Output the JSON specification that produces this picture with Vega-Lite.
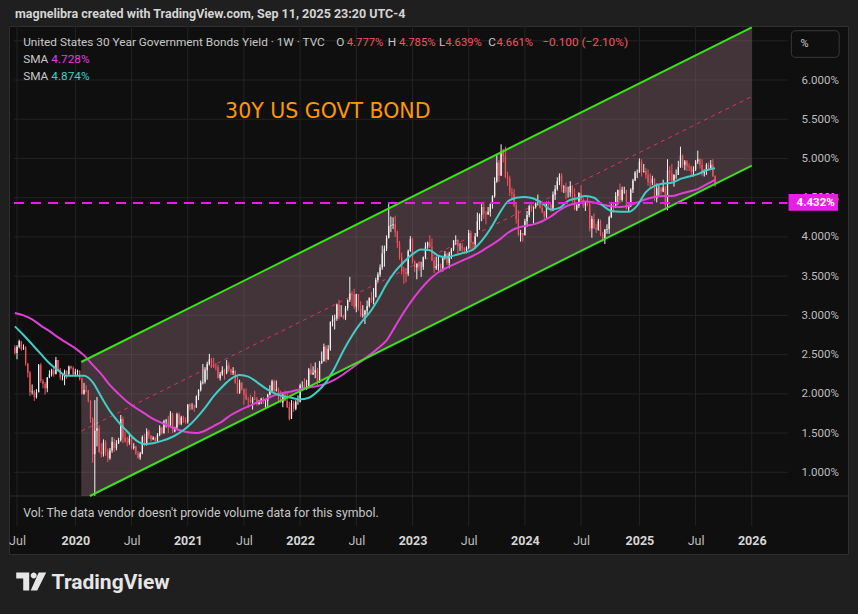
{
  "$schema": "https://vega.github.io/schema/vega-lite/v6.json",
  "width": 839,
  "height": 528,
  "autosize": {"type": "none"},
  "padding": {"left": 9, "top": 26, "right": 10, "bottom": 60},
  "background": "#1f1f1f",
  "config": {"view": {"fill": "#0f0f0f", "stroke": "#2f2f2f", "strokeWidth": 1}, "font": "Roboto"},
  "data": {"values": [{}]},
  "datasets": {
    "hgrid": [{"v":1},{"v":1.5},{"v":2},{"v":2.5},{"v":3},{"v":3.5},{"v":4},{"v":4.5},{"v":5},{"v":5.5},{"v":6},{"v":6.5}],
    "vgrid": [{"d":"2019-07-01"},{"d":"2020-01-06"},{"d":"2020-07-06"},{"d":"2021-01-04"},{"d":"2021-07-05"},{"d":"2022-01-03"},{"d":"2022-07-04"},{"d":"2023-01-02"},{"d":"2023-07-03"},{"d":"2024-01-01"},{"d":"2024-07-01"},{"d":"2025-01-06"},{"d":"2025-07-07"},{"d":"2026-01-05"}],
    "chan": [{"d":"2020-01-25","up":2.406,"lo":0.698},{"d":"2020-02-22","up":2.463,"lo":0.698},{"d":"2026-01-05","up":6.672,"lo":4.908}],
    "edges": [{"d":"2020-01-25","v":2.406,"e":"upper"},{"d":"2026-01-05","v":6.672,"e":"upper"},{"d":"2020-02-22","v":0.698,"e":"lower"},{"d":"2026-01-05","v":4.908,"e":"lower"}],
    "mid": [{"d":"2020-01-25","v":1.524},{"d":"2026-01-05","v":5.79}],
    "sma": [
      {"d":"2019-06-24","f":2.86,"s":3.03},{"d":"2019-07-22","f":2.75,"s":3.00},{"d":"2019-08-19","f":2.63,"s":2.95},{"d":"2019-09-16","f":2.51,"s":2.87},
      {"d":"2019-10-14","f":2.39,"s":2.80},{"d":"2019-11-11","f":2.30,"s":2.72},{"d":"2019-12-09","f":2.23,"s":2.65},{"d":"2020-01-06","f":2.23,"s":2.58},
      {"d":"2020-02-03","f":2.23,"s":2.49},{"d":"2020-03-02","f":2.15,"s":2.37},{"d":"2020-03-30","f":1.96,"s":2.25},{"d":"2020-04-27","f":1.78,"s":2.11},
      {"d":"2020-05-25","f":1.64,"s":2.00},{"d":"2020-06-22","f":1.52,"s":1.90},{"d":"2020-07-20","f":1.41,"s":1.82},{"d":"2020-08-17","f":1.36,"s":1.75},
      {"d":"2020-09-14","f":1.37,"s":1.68},{"d":"2020-10-12","f":1.40,"s":1.63},{"d":"2020-11-09","f":1.44,"s":1.58},{"d":"2020-12-07","f":1.50,"s":1.54},
      {"d":"2021-01-04","f":1.58,"s":1.51},{"d":"2021-02-01","f":1.69,"s":1.50},{"d":"2021-03-01","f":1.82,"s":1.53},{"d":"2021-03-29","f":1.97,"s":1.59},
      {"d":"2021-04-26","f":2.09,"s":1.65},{"d":"2021-05-24","f":2.19,"s":1.73},{"d":"2021-06-21","f":2.24,"s":1.79},{"d":"2021-07-19","f":2.22,"s":1.84},
      {"d":"2021-08-16","f":2.15,"s":1.89},{"d":"2021-09-13","f":2.07,"s":1.93},{"d":"2021-10-11","f":2.01,"s":1.98},{"d":"2021-11-08","f":1.97,"s":2.01},
      {"d":"2021-12-06","f":1.95,"s":2.03},{"d":"2022-01-03","f":1.93,"s":2.06},{"d":"2022-01-31","f":1.95,"s":2.08},{"d":"2022-02-28","f":2.03,"s":2.10},
      {"d":"2022-03-28","f":2.15,"s":2.13},{"d":"2022-04-25","f":2.33,"s":2.18},{"d":"2022-05-23","f":2.55,"s":2.25},{"d":"2022-06-20","f":2.74,"s":2.33},
      {"d":"2022-07-18","f":2.90,"s":2.41},{"d":"2022-08-15","f":3.03,"s":2.49},{"d":"2022-09-12","f":3.20,"s":2.58},{"d":"2022-10-10","f":3.40,"s":2.68},
      {"d":"2022-11-07","f":3.56,"s":2.86},{"d":"2022-12-05","f":3.68,"s":3.04},{"d":"2023-01-02","f":3.78,"s":3.20},{"d":"2023-01-30","f":3.84,"s":3.34},
      {"d":"2023-02-27","f":3.83,"s":3.46},{"d":"2023-03-27","f":3.76,"s":3.55},{"d":"2023-04-24","f":3.74,"s":3.61},{"d":"2023-05-22","f":3.77,"s":3.66},
      {"d":"2023-06-19","f":3.80,"s":3.71},{"d":"2023-07-17","f":3.84,"s":3.76},{"d":"2023-08-14","f":3.95,"s":3.82},{"d":"2023-09-11","f":4.10,"s":3.89},
      {"d":"2023-10-09","f":4.29,"s":3.96},{"d":"2023-11-06","f":4.45,"s":4.05},{"d":"2023-12-04","f":4.50,"s":4.11},{"d":"2024-01-01","f":4.51,"s":4.14},
      {"d":"2024-01-29","f":4.49,"s":4.16},{"d":"2024-02-26","f":4.43,"s":4.20},{"d":"2024-03-25","f":4.35,"s":4.26},{"d":"2024-04-22","f":4.37,"s":4.34},
      {"d":"2024-05-20","f":4.46,"s":4.40},{"d":"2024-06-17","f":4.49,"s":4.43},{"d":"2024-07-15","f":4.52,"s":4.45},{"d":"2024-08-12","f":4.50,"s":4.44},
      {"d":"2024-09-09","f":4.40,"s":4.41},{"d":"2024-10-07","f":4.33,"s":4.39},{"d":"2024-11-04","f":4.32,"s":4.38},{"d":"2024-12-02","f":4.32,"s":4.40},
      {"d":"2024-12-30","f":4.40,"s":4.44},{"d":"2025-01-27","f":4.57,"s":4.48},{"d":"2025-02-24","f":4.65,"s":4.51},{"d":"2025-03-24","f":4.68,"s":4.52},
      {"d":"2025-04-21","f":4.69,"s":4.52},{"d":"2025-05-19","f":4.74,"s":4.55},{"d":"2025-06-16","f":4.77,"s":4.58},{"d":"2025-07-14","f":4.80,"s":4.61},
      {"d":"2025-08-11","f":4.85,"s":4.67},{"d":"2025-09-08","f":4.874,"s":4.728}
    ],
    "candles": [
      {"d":"2019-06-24","o":2.59,"h":2.62,"l":2.50,"c":2.52},{"d":"2019-07-01","o":2.52,"h":2.62,"l":2.44,"c":2.60},{"d":"2019-07-08","o":2.60,"h":2.69,"l":2.58,"c":2.67},
      {"d":"2019-07-15","o":2.67,"h":2.67,"l":2.55,"c":2.57},{"d":"2019-07-22","o":2.57,"h":2.63,"l":2.56,"c":2.59},{"d":"2019-07-29","o":2.59,"h":2.61,"l":2.36,"c":2.39},
      {"d":"2019-08-05","o":2.39,"h":2.39,"l":2.21,"c":2.27},{"d":"2019-08-12","o":2.27,"h":2.29,"l":1.97,"c":2.02},{"d":"2019-08-19","o":2.02,"h":2.12,"l":1.99,"c":2.03},
      {"d":"2019-08-26","o":2.03,"h":2.05,"l":1.91,"c":1.96},{"d":"2019-09-02","o":1.96,"h":2.06,"l":1.94,"c":2.02},{"d":"2019-09-09","o":2.02,"h":2.38,"l":2.02,"c":2.37},
      {"d":"2019-09-16","o":2.37,"h":2.39,"l":2.14,"c":2.16},{"d":"2019-09-23","o":2.16,"h":2.19,"l":2.07,"c":2.13},{"d":"2019-09-30","o":2.13,"h":2.15,"l":1.99,"c":2.07},
      {"d":"2019-10-07","o":2.07,"h":2.21,"l":2.02,"c":2.21},{"d":"2019-10-14","o":2.21,"h":2.30,"l":2.20,"c":2.25},{"d":"2019-10-21","o":2.25,"h":2.32,"l":2.22,"c":2.30},
      {"d":"2019-10-28","o":2.30,"h":2.35,"l":2.22,"c":2.25},{"d":"2019-11-04","o":2.25,"h":2.47,"l":2.25,"c":2.43},{"d":"2019-11-11","o":2.43,"h":2.43,"l":2.28,"c":2.31},
      {"d":"2019-11-18","o":2.31,"h":2.33,"l":2.18,"c":2.21},{"d":"2019-11-25","o":2.21,"h":2.24,"l":2.17,"c":2.21},{"d":"2019-12-02","o":2.21,"h":2.31,"l":2.11,"c":2.29},
      {"d":"2019-12-09","o":2.29,"h":2.30,"l":2.19,"c":2.25},{"d":"2019-12-16","o":2.25,"h":2.36,"l":2.23,"c":2.35},{"d":"2019-12-23","o":2.35,"h":2.36,"l":2.31,"c":2.33},
      {"d":"2019-12-30","o":2.33,"h":2.35,"l":2.24,"c":2.25},
      {"d":"2020-01-06","o":2.25,"h":2.32,"l":2.23,"c":2.28},{"d":"2020-01-13","o":2.28,"h":2.31,"l":2.24,"c":2.29},{"d":"2020-01-20","o":2.29,"h":2.30,"l":2.17,"c":2.19},
      {"d":"2020-01-27","o":2.19,"h":2.21,"l":1.99,"c":2.00},{"d":"2020-02-03","o":2.00,"h":2.14,"l":1.99,"c":2.05},{"d":"2020-02-10","o":2.05,"h":2.11,"l":2.02,"c":2.04},
      {"d":"2020-02-17","o":2.04,"h":2.05,"l":1.89,"c":1.91},{"d":"2020-02-24","o":1.91,"h":1.92,"l":1.63,"c":1.68},{"d":"2020-03-02","o":1.68,"h":1.70,"l":1.12,"c":1.23},
      {"d":"2020-03-09","o":1.23,"h":1.92,"l":0.70,"c":1.53},{"d":"2020-03-16","o":1.53,"h":1.96,"l":1.33,"c":1.56},{"d":"2020-03-23","o":1.56,"h":1.60,"l":1.25,"c":1.26},
      {"d":"2020-03-30","o":1.26,"h":1.37,"l":1.19,"c":1.23},{"d":"2020-04-06","o":1.23,"h":1.42,"l":1.20,"c":1.38},{"d":"2020-04-13","o":1.38,"h":1.41,"l":1.21,"c":1.26},
      {"d":"2020-04-20","o":1.26,"h":1.30,"l":1.13,"c":1.18},{"d":"2020-04-27","o":1.18,"h":1.31,"l":1.16,"c":1.28},{"d":"2020-05-04","o":1.28,"h":1.45,"l":1.25,"c":1.39},
      {"d":"2020-05-11","o":1.39,"h":1.43,"l":1.26,"c":1.31},{"d":"2020-05-18","o":1.31,"h":1.41,"l":1.28,"c":1.37},{"d":"2020-05-25","o":1.37,"h":1.44,"l":1.36,"c":1.41},
      {"d":"2020-06-01","o":1.41,"h":1.73,"l":1.39,"c":1.68},{"d":"2020-06-08","o":1.68,"h":1.71,"l":1.37,"c":1.44},{"d":"2020-06-15","o":1.44,"h":1.52,"l":1.38,"c":1.39},
      {"d":"2020-06-22","o":1.39,"h":1.45,"l":1.33,"c":1.38},{"d":"2020-06-29","o":1.38,"h":1.48,"l":1.35,"c":1.43},{"d":"2020-07-06","o":1.43,"h":1.46,"l":1.29,"c":1.31},
      {"d":"2020-07-13","o":1.31,"h":1.37,"l":1.29,"c":1.33},{"d":"2020-07-20","o":1.33,"h":1.34,"l":1.22,"c":1.24},{"d":"2020-07-27","o":1.24,"h":1.27,"l":1.17,"c":1.19},
      {"d":"2020-08-03","o":1.19,"h":1.26,"l":1.16,"c":1.24},{"d":"2020-08-10","o":1.24,"h":1.47,"l":1.23,"c":1.45},{"d":"2020-08-17","o":1.45,"h":1.49,"l":1.33,"c":1.35},
      {"d":"2020-08-24","o":1.35,"h":1.56,"l":1.34,"c":1.52},{"d":"2020-08-31","o":1.52,"h":1.54,"l":1.43,"c":1.47},{"d":"2020-09-07","o":1.47,"h":1.47,"l":1.39,"c":1.42},
      {"d":"2020-09-14","o":1.42,"h":1.46,"l":1.41,"c":1.44},{"d":"2020-09-21","o":1.44,"h":1.45,"l":1.37,"c":1.40},{"d":"2020-09-28","o":1.40,"h":1.50,"l":1.39,"c":1.48},
      {"d":"2020-10-05","o":1.48,"h":1.60,"l":1.46,"c":1.57},{"d":"2020-10-12","o":1.57,"h":1.58,"l":1.48,"c":1.50},{"d":"2020-10-19","o":1.50,"h":1.67,"l":1.49,"c":1.65},
      {"d":"2020-10-26","o":1.65,"h":1.68,"l":1.57,"c":1.66},{"d":"2020-11-02","o":1.66,"h":1.72,"l":1.50,"c":1.60},{"d":"2020-11-09","o":1.60,"h":1.78,"l":1.58,"c":1.75},
      {"d":"2020-11-16","o":1.75,"h":1.76,"l":1.50,"c":1.52},{"d":"2020-11-23","o":1.52,"h":1.58,"l":1.51,"c":1.57},{"d":"2020-11-30","o":1.57,"h":1.76,"l":1.55,"c":1.74},
      {"d":"2020-12-07","o":1.74,"h":1.76,"l":1.60,"c":1.62},{"d":"2020-12-14","o":1.62,"h":1.72,"l":1.60,"c":1.70},{"d":"2020-12-21","o":1.70,"h":1.72,"l":1.63,"c":1.66},
      {"d":"2020-12-28","o":1.66,"h":1.70,"l":1.62,"c":1.64},
      {"d":"2021-01-04","o":1.64,"h":1.87,"l":1.62,"c":1.86},{"d":"2021-01-11","o":1.86,"h":1.88,"l":1.79,"c":1.84},{"d":"2021-01-18","o":1.84,"h":1.88,"l":1.80,"c":1.84},
      {"d":"2021-01-25","o":1.84,"h":1.86,"l":1.77,"c":1.83},{"d":"2021-02-01","o":1.83,"h":1.98,"l":1.82,"c":1.97},{"d":"2021-02-08","o":1.97,"h":2.06,"l":1.92,"c":2.05},
      {"d":"2021-02-15","o":2.05,"h":2.17,"l":2.03,"c":2.14},{"d":"2021-02-22","o":2.14,"h":2.38,"l":2.12,"c":2.15},{"d":"2021-03-01","o":2.15,"h":2.34,"l":2.13,"c":2.30},
      {"d":"2021-03-08","o":2.30,"h":2.41,"l":2.18,"c":2.38},{"d":"2021-03-15","o":2.38,"h":2.51,"l":2.36,"c":2.44},{"d":"2021-03-22","o":2.44,"h":2.46,"l":2.33,"c":2.38},
      {"d":"2021-03-29","o":2.38,"h":2.46,"l":2.33,"c":2.35},{"d":"2021-04-05","o":2.35,"h":2.39,"l":2.30,"c":2.34},{"d":"2021-04-12","o":2.34,"h":2.37,"l":2.20,"c":2.20},
      {"d":"2021-04-19","o":2.20,"h":2.28,"l":2.17,"c":2.25},{"d":"2021-04-26","o":2.25,"h":2.35,"l":2.23,"c":2.30},{"d":"2021-05-03","o":2.30,"h":2.32,"l":2.18,"c":2.27},
      {"d":"2021-05-10","o":2.27,"h":2.43,"l":2.25,"c":2.36},{"d":"2021-05-17","o":2.36,"h":2.40,"l":2.28,"c":2.31},{"d":"2021-05-24","o":2.31,"h":2.32,"l":2.24,"c":2.27},
      {"d":"2021-05-31","o":2.27,"h":2.34,"l":2.24,"c":2.29},{"d":"2021-06-07","o":2.29,"h":2.30,"l":2.13,"c":2.14},{"d":"2021-06-14","o":2.14,"h":2.23,"l":2.00,"c":2.01},
      {"d":"2021-06-21","o":2.01,"h":2.18,"l":2.00,"c":2.14},{"d":"2021-06-28","o":2.14,"h":2.15,"l":2.04,"c":2.06},{"d":"2021-07-05","o":2.06,"h":2.07,"l":1.86,"c":1.99},
      {"d":"2021-07-12","o":1.99,"h":2.07,"l":1.92,"c":1.93},{"d":"2021-07-19","o":1.93,"h":1.96,"l":1.82,"c":1.92},{"d":"2021-07-26","o":1.92,"h":1.99,"l":1.88,"c":1.89},
      {"d":"2021-08-02","o":1.89,"h":1.96,"l":1.80,"c":1.94},{"d":"2021-08-09","o":1.94,"h":2.04,"l":1.92,"c":1.93},{"d":"2021-08-16","o":1.93,"h":1.96,"l":1.85,"c":1.87},
      {"d":"2021-08-23","o":1.87,"h":1.92,"l":1.86,"c":1.91},{"d":"2021-08-30","o":1.91,"h":1.95,"l":1.87,"c":1.94},{"d":"2021-09-06","o":1.94,"h":1.96,"l":1.87,"c":1.91},
      {"d":"2021-09-13","o":1.91,"h":1.93,"l":1.82,"c":1.91},{"d":"2021-09-20","o":1.91,"h":2.00,"l":1.82,"c":1.99},{"d":"2021-09-27","o":1.99,"h":2.11,"l":1.98,"c":2.04},
      {"d":"2021-10-04","o":2.04,"h":2.18,"l":2.03,"c":2.16},{"d":"2021-10-11","o":2.16,"h":2.18,"l":2.02,"c":2.04},{"d":"2021-10-18","o":2.04,"h":2.17,"l":2.03,"c":2.06},
      {"d":"2021-10-25","o":2.06,"h":2.08,"l":1.90,"c":1.93},{"d":"2021-11-01","o":1.93,"h":2.04,"l":1.89,"c":1.89},{"d":"2021-11-08","o":1.89,"h":2.00,"l":1.83,"c":1.99},
      {"d":"2021-11-15","o":1.99,"h":2.04,"l":1.91,"c":1.91},{"d":"2021-11-22","o":1.91,"h":2.03,"l":1.82,"c":1.83},{"d":"2021-11-29","o":1.83,"h":1.90,"l":1.66,"c":1.68},
      {"d":"2021-12-06","o":1.68,"h":1.92,"l":1.68,"c":1.88},{"d":"2021-12-13","o":1.88,"h":1.91,"l":1.77,"c":1.81},{"d":"2021-12-20","o":1.81,"h":1.92,"l":1.79,"c":1.90},
      {"d":"2021-12-27","o":1.90,"h":1.98,"l":1.86,"c":1.90},
      {"d":"2022-01-03","o":1.90,"h":2.13,"l":1.89,"c":2.11},{"d":"2022-01-10","o":2.11,"h":2.16,"l":2.04,"c":2.11},{"d":"2022-01-17","o":2.11,"h":2.20,"l":2.06,"c":2.07},
      {"d":"2022-01-24","o":2.07,"h":2.18,"l":2.05,"c":2.08},{"d":"2022-01-31","o":2.08,"h":2.33,"l":2.07,"c":2.31},{"d":"2022-02-07","o":2.31,"h":2.39,"l":2.24,"c":2.25},
      {"d":"2022-02-14","o":2.25,"h":2.35,"l":2.24,"c":2.27},{"d":"2022-02-21","o":2.27,"h":2.40,"l":2.20,"c":2.30},{"d":"2022-02-28","o":2.30,"h":2.33,"l":2.11,"c":2.15},
      {"d":"2022-03-07","o":2.15,"h":2.42,"l":2.14,"c":2.40},{"d":"2022-03-14","o":2.40,"h":2.54,"l":2.38,"c":2.42},{"d":"2022-03-21","o":2.42,"h":2.64,"l":2.41,"c":2.60},
      {"d":"2022-03-28","o":2.60,"h":2.62,"l":2.40,"c":2.44},{"d":"2022-04-04","o":2.44,"h":2.62,"l":2.43,"c":2.57},{"d":"2022-04-11","o":2.57,"h":2.92,"l":2.55,"c":2.92},
      {"d":"2022-04-18","o":2.92,"h":3.00,"l":2.86,"c":2.95},{"d":"2022-04-25","o":2.95,"h":3.01,"l":2.82,"c":2.96},{"d":"2022-05-02","o":2.96,"h":3.15,"l":2.93,"c":3.14},
      {"d":"2022-05-09","o":3.14,"h":3.20,"l":2.95,"c":2.99},{"d":"2022-05-16","o":2.99,"h":3.13,"l":2.98,"c":2.99},{"d":"2022-05-23","o":2.99,"h":3.01,"l":2.95,"c":2.97},
      {"d":"2022-05-30","o":2.97,"h":3.12,"l":2.94,"c":3.09},{"d":"2022-06-06","o":3.09,"h":3.20,"l":3.06,"c":3.20},{"d":"2022-06-13","o":3.20,"h":3.49,"l":3.17,"c":3.28},
      {"d":"2022-06-20","o":3.28,"h":3.31,"l":3.12,"c":3.26},{"d":"2022-06-27","o":3.26,"h":3.34,"l":3.08,"c":3.11},{"d":"2022-07-04","o":3.11,"h":3.27,"l":3.04,"c":3.27},
      {"d":"2022-07-11","o":3.27,"h":3.27,"l":3.06,"c":3.09},{"d":"2022-07-18","o":3.09,"h":3.18,"l":2.98,"c":3.00},{"d":"2022-07-25","o":3.00,"h":3.13,"l":2.97,"c":3.01},
      {"d":"2022-08-01","o":3.01,"h":3.07,"l":2.89,"c":3.06},{"d":"2022-08-08","o":3.06,"h":3.19,"l":3.00,"c":3.12},{"d":"2022-08-15","o":3.12,"h":3.23,"l":3.10,"c":3.22},
      {"d":"2022-08-22","o":3.22,"h":3.30,"l":3.16,"c":3.19},{"d":"2022-08-29","o":3.19,"h":3.35,"l":3.14,"c":3.23},{"d":"2022-09-05","o":3.23,"h":3.48,"l":3.23,"c":3.45},
      {"d":"2022-09-12","o":3.45,"h":3.55,"l":3.42,"c":3.52},{"d":"2022-09-19","o":3.52,"h":3.65,"l":3.49,"c":3.61},{"d":"2022-09-26","o":3.61,"h":3.89,"l":3.58,"c":3.79},
      {"d":"2022-10-03","o":3.79,"h":3.89,"l":3.62,"c":3.85},{"d":"2022-10-10","o":3.85,"h":4.02,"l":3.82,"c":3.99},{"d":"2022-10-17","o":3.99,"h":4.42,"l":3.98,"c":4.14},
      {"d":"2022-10-24","o":4.14,"h":4.26,"l":4.06,"c":4.15},{"d":"2022-10-31","o":4.15,"h":4.25,"l":4.10,"c":4.16},{"d":"2022-11-07","o":4.16,"h":4.27,"l":4.00,"c":4.06},
      {"d":"2022-11-14","o":4.06,"h":4.08,"l":3.86,"c":3.92},{"d":"2022-11-21","o":3.92,"h":3.95,"l":3.71,"c":3.74},{"d":"2022-11-28","o":3.74,"h":3.80,"l":3.52,"c":3.56},
      {"d":"2022-12-05","o":3.56,"h":3.62,"l":3.40,"c":3.55},{"d":"2022-12-12","o":3.55,"h":3.60,"l":3.42,"c":3.53},{"d":"2022-12-19","o":3.53,"h":3.84,"l":3.50,"c":3.82},
      {"d":"2022-12-26","o":3.82,"h":4.01,"l":3.81,"c":3.97},
      {"d":"2023-01-02","o":3.97,"h":3.99,"l":3.66,"c":3.69},{"d":"2023-01-09","o":3.69,"h":3.70,"l":3.55,"c":3.61},{"d":"2023-01-16","o":3.61,"h":3.66,"l":3.46,"c":3.66},
      {"d":"2023-01-23","o":3.66,"h":3.69,"l":3.57,"c":3.62},{"d":"2023-01-30","o":3.62,"h":3.68,"l":3.49,"c":3.62},{"d":"2023-02-06","o":3.62,"h":3.75,"l":3.58,"c":3.74},
      {"d":"2023-02-13","o":3.74,"h":3.93,"l":3.72,"c":3.88},{"d":"2023-02-20","o":3.88,"h":3.94,"l":3.85,"c":3.93},{"d":"2023-02-27","o":3.93,"h":4.02,"l":3.86,"c":3.87},
      {"d":"2023-03-06","o":3.87,"h":3.98,"l":3.69,"c":3.70},{"d":"2023-03-13","o":3.70,"h":3.75,"l":3.54,"c":3.60},{"d":"2023-03-20","o":3.60,"h":3.75,"l":3.58,"c":3.63},
      {"d":"2023-03-27","o":3.63,"h":3.76,"l":3.57,"c":3.65},{"d":"2023-04-03","o":3.65,"h":3.66,"l":3.55,"c":3.60},{"d":"2023-04-10","o":3.60,"h":3.76,"l":3.56,"c":3.74},
      {"d":"2023-04-17","o":3.74,"h":3.82,"l":3.71,"c":3.78},{"d":"2023-04-24","o":3.78,"h":3.80,"l":3.64,"c":3.67},{"d":"2023-05-01","o":3.67,"h":3.81,"l":3.60,"c":3.79},
      {"d":"2023-05-08","o":3.79,"h":3.86,"l":3.72,"c":3.84},{"d":"2023-05-15","o":3.84,"h":3.96,"l":3.82,"c":3.95},{"d":"2023-05-22","o":3.95,"h":4.02,"l":3.90,"c":3.96},
      {"d":"2023-05-29","o":3.96,"h":3.97,"l":3.79,"c":3.88},{"d":"2023-06-05","o":3.88,"h":3.92,"l":3.82,"c":3.88},{"d":"2023-06-12","o":3.88,"h":3.92,"l":3.79,"c":3.85},
      {"d":"2023-06-19","o":3.85,"h":3.87,"l":3.78,"c":3.83},{"d":"2023-06-26","o":3.83,"h":3.88,"l":3.79,"c":3.86},{"d":"2023-07-03","o":3.86,"h":4.09,"l":3.84,"c":4.05},
      {"d":"2023-07-10","o":4.05,"h":4.08,"l":3.84,"c":3.93},{"d":"2023-07-17","o":3.93,"h":3.94,"l":3.82,"c":3.91},{"d":"2023-07-24","o":3.91,"h":4.05,"l":3.85,"c":4.01},
      {"d":"2023-07-31","o":4.01,"h":4.31,"l":4.00,"c":4.20},{"d":"2023-08-07","o":4.20,"h":4.30,"l":4.09,"c":4.28},{"d":"2023-08-14","o":4.28,"h":4.43,"l":4.20,"c":4.38},
      {"d":"2023-08-21","o":4.38,"h":4.45,"l":4.23,"c":4.30},{"d":"2023-08-28","o":4.30,"h":4.33,"l":4.16,"c":4.29},{"d":"2023-09-04","o":4.29,"h":4.38,"l":4.28,"c":4.32},
      {"d":"2023-09-11","o":4.32,"h":4.43,"l":4.26,"c":4.42},{"d":"2023-09-18","o":4.42,"h":4.53,"l":4.36,"c":4.52},{"d":"2023-09-25","o":4.52,"h":4.76,"l":4.50,"c":4.71},
      {"d":"2023-10-02","o":4.71,"h":5.05,"l":4.69,"c":4.95},{"d":"2023-10-09","o":4.95,"h":4.98,"l":4.70,"c":4.78},{"d":"2023-10-16","o":4.78,"h":5.18,"l":4.78,"c":5.09},
      {"d":"2023-10-23","o":5.09,"h":5.12,"l":4.95,"c":5.03},{"d":"2023-10-30","o":5.03,"h":5.15,"l":4.75,"c":4.76},{"d":"2023-11-06","o":4.76,"h":4.83,"l":4.65,"c":4.74},
      {"d":"2023-11-13","o":4.74,"h":4.78,"l":4.52,"c":4.57},{"d":"2023-11-20","o":4.57,"h":4.63,"l":4.48,"c":4.55},{"d":"2023-11-27","o":4.55,"h":4.61,"l":4.38,"c":4.40},
      {"d":"2023-12-04","o":4.40,"h":4.43,"l":4.17,"c":4.23},{"d":"2023-12-11","o":4.23,"h":4.34,"l":4.01,"c":4.03},{"d":"2023-12-18","o":4.03,"h":4.09,"l":3.94,"c":4.05},
      {"d":"2023-12-25","o":4.05,"h":4.05,"l":3.94,"c":4.02},
      {"d":"2024-01-01","o":4.02,"h":4.23,"l":4.02,"c":4.20},{"d":"2024-01-08","o":4.20,"h":4.33,"l":4.13,"c":4.28},{"d":"2024-01-15","o":4.28,"h":4.41,"l":4.25,"c":4.39},
      {"d":"2024-01-22","o":4.39,"h":4.44,"l":4.32,"c":4.36},{"d":"2024-01-29","o":4.36,"h":4.39,"l":4.17,"c":4.38},{"d":"2024-02-05","o":4.38,"h":4.44,"l":4.36,"c":4.43},
      {"d":"2024-02-12","o":4.43,"h":4.54,"l":4.40,"c":4.43},{"d":"2024-02-19","o":4.43,"h":4.47,"l":4.36,"c":4.37},{"d":"2024-02-26","o":4.37,"h":4.43,"l":4.30,"c":4.32},
      {"d":"2024-03-04","o":4.32,"h":4.33,"l":4.21,"c":4.26},{"d":"2024-03-11","o":4.26,"h":4.45,"l":4.24,"c":4.43},{"d":"2024-03-18","o":4.43,"h":4.46,"l":4.35,"c":4.41},
      {"d":"2024-03-25","o":4.41,"h":4.42,"l":4.32,"c":4.34},{"d":"2024-04-01","o":4.34,"h":4.58,"l":4.33,"c":4.54},{"d":"2024-04-08","o":4.54,"h":4.66,"l":4.47,"c":4.61},
      {"d":"2024-04-15","o":4.61,"h":4.76,"l":4.59,"c":4.71},{"d":"2024-04-22","o":4.71,"h":4.81,"l":4.66,"c":4.78},{"d":"2024-04-29","o":4.78,"h":4.81,"l":4.59,"c":4.63},
      {"d":"2024-05-06","o":4.63,"h":4.66,"l":4.56,"c":4.64},{"d":"2024-05-13","o":4.64,"h":4.69,"l":4.48,"c":4.57},{"d":"2024-05-20","o":4.57,"h":4.64,"l":4.50,"c":4.57},
      {"d":"2024-05-27","o":4.57,"h":4.71,"l":4.51,"c":4.65},{"d":"2024-06-03","o":4.65,"h":4.66,"l":4.44,"c":4.55},{"d":"2024-06-10","o":4.55,"h":4.62,"l":4.34,"c":4.35},
      {"d":"2024-06-17","o":4.35,"h":4.43,"l":4.33,"c":4.40},{"d":"2024-06-24","o":4.40,"h":4.57,"l":4.37,"c":4.56},{"d":"2024-07-01","o":4.56,"h":4.66,"l":4.46,"c":4.47},
      {"d":"2024-07-08","o":4.47,"h":4.50,"l":4.37,"c":4.40},{"d":"2024-07-15","o":4.40,"h":4.46,"l":4.33,"c":4.45},{"d":"2024-07-22","o":4.45,"h":4.51,"l":4.39,"c":4.42},
      {"d":"2024-07-29","o":4.42,"h":4.45,"l":4.07,"c":4.11},{"d":"2024-08-05","o":4.11,"h":4.27,"l":3.99,"c":4.23},{"d":"2024-08-12","o":4.23,"h":4.30,"l":4.10,"c":4.12},
      {"d":"2024-08-19","o":4.12,"h":4.17,"l":4.05,"c":4.09},{"d":"2024-08-26","o":4.09,"h":4.23,"l":4.08,"c":4.20},{"d":"2024-09-02","o":4.20,"h":4.22,"l":4.01,"c":4.03},
      {"d":"2024-09-09","o":4.03,"h":4.06,"l":3.94,"c":3.98},{"d":"2024-09-16","o":3.98,"h":4.10,"l":3.91,"c":4.09},{"d":"2024-09-23","o":4.09,"h":4.16,"l":4.04,"c":4.10},
      {"d":"2024-09-30","o":4.10,"h":4.27,"l":4.04,"c":4.25},{"d":"2024-10-07","o":4.25,"h":4.42,"l":4.24,"c":4.41},{"d":"2024-10-14","o":4.41,"h":4.43,"l":4.31,"c":4.39},
      {"d":"2024-10-21","o":4.39,"h":4.57,"l":4.37,"c":4.52},{"d":"2024-10-28","o":4.52,"h":4.60,"l":4.41,"c":4.60},{"d":"2024-11-04","o":4.60,"h":4.68,"l":4.43,"c":4.47},
      {"d":"2024-11-11","o":4.47,"h":4.64,"l":4.45,"c":4.60},{"d":"2024-11-18","o":4.60,"h":4.64,"l":4.55,"c":4.60},{"d":"2024-11-25","o":4.60,"h":4.60,"l":4.35,"c":4.36},
      {"d":"2024-12-02","o":4.36,"h":4.41,"l":4.32,"c":4.39},{"d":"2024-12-09","o":4.39,"h":4.62,"l":4.38,"c":4.60},{"d":"2024-12-16","o":4.60,"h":4.74,"l":4.56,"c":4.72},
      {"d":"2024-12-23","o":4.72,"h":4.84,"l":4.71,"c":4.82},{"d":"2024-12-30","o":4.82,"h":4.86,"l":4.75,"c":4.82},
      {"d":"2025-01-06","o":4.82,"h":5.00,"l":4.82,"c":4.96},{"d":"2025-01-13","o":4.96,"h":4.99,"l":4.77,"c":4.83},{"d":"2025-01-20","o":4.83,"h":4.93,"l":4.82,"c":4.84},
      {"d":"2025-01-27","o":4.84,"h":4.88,"l":4.74,"c":4.79},{"d":"2025-02-03","o":4.79,"h":4.86,"l":4.65,"c":4.70},{"d":"2025-02-10","o":4.70,"h":4.81,"l":4.62,"c":4.69},
      {"d":"2025-02-17","o":4.69,"h":4.78,"l":4.66,"c":4.74},{"d":"2025-02-24","o":4.74,"h":4.75,"l":4.46,"c":4.49},{"d":"2025-03-03","o":4.49,"h":4.68,"l":4.44,"c":4.62},
      {"d":"2025-03-10","o":4.62,"h":4.66,"l":4.51,"c":4.62},{"d":"2025-03-17","o":4.62,"h":4.64,"l":4.54,"c":4.58},{"d":"2025-03-24","o":4.58,"h":4.73,"l":4.57,"c":4.63},
      {"d":"2025-03-31","o":4.63,"h":4.65,"l":4.34,"c":4.41},{"d":"2025-04-07","o":4.41,"h":4.99,"l":4.34,"c":4.85},{"d":"2025-04-14","o":4.85,"h":4.90,"l":4.71,"c":4.81},
      {"d":"2025-04-21","o":4.81,"h":4.93,"l":4.70,"c":4.72},{"d":"2025-04-28","o":4.72,"h":4.80,"l":4.64,"c":4.79},{"d":"2025-05-05","o":4.79,"h":4.86,"l":4.74,"c":4.79},
      {"d":"2025-05-12","o":4.79,"h":4.97,"l":4.79,"c":4.89},{"d":"2025-05-19","o":4.89,"h":5.15,"l":4.88,"c":5.04},{"d":"2025-05-26","o":5.04,"h":5.05,"l":4.88,"c":4.92},
      {"d":"2025-06-02","o":4.92,"h":4.98,"l":4.85,"c":4.96},{"d":"2025-06-09","o":4.96,"h":4.98,"l":4.84,"c":4.90},{"d":"2025-06-16","o":4.90,"h":4.94,"l":4.84,"c":4.89},
      {"d":"2025-06-23","o":4.89,"h":4.91,"l":4.79,"c":4.83},{"d":"2025-06-30","o":4.83,"h":4.90,"l":4.77,"c":4.86},{"d":"2025-07-07","o":4.86,"h":4.98,"l":4.84,"c":4.96},
      {"d":"2025-07-14","o":4.96,"h":5.10,"l":4.93,"c":4.99},{"d":"2025-07-21","o":4.99,"h":5.00,"l":4.87,"c":4.92},{"d":"2025-07-28","o":4.92,"h":4.99,"l":4.78,"c":4.81},
      {"d":"2025-08-04","o":4.81,"h":4.86,"l":4.77,"c":4.85},{"d":"2025-08-11","o":4.85,"h":4.94,"l":4.79,"c":4.92},{"d":"2025-08-18","o":4.92,"h":4.95,"l":4.86,"c":4.88},
      {"d":"2025-08-25","o":4.88,"h":4.98,"l":4.87,"c":4.92},{"d":"2025-09-01","o":4.92,"h":4.99,"l":4.77,"c":4.77},{"d":"2025-09-08","o":4.777,"h":4.785,"l":4.639,"c":4.661}
    ]
  },
  "layer": [
    {
      "data": {"name": "hgrid"},
      "mark": {"type": "rule", "color": "#232323", "strokeWidth": 1},
      "encoding": {
        "y": {"field": "v", "type": "quantitative",
          "scale": {"domain": [-0.0413, 6.6883], "nice": false, "zero": false},
          "axis": {"orient": "right", "offset": -47, "values": [1,1.5,2,2.5,3,3.5,4,4.5,5,5.5,6],
            "labelExpr": "format(datum.value, '.3f') + '%'", "ticks": false, "domain": false, "grid": false,
            "labelPadding": 0, "labelFont": "Roboto", "labelFontSize": 11.5, "labelColor": "#bdbdbd",
            "labelAlign": "left", "labelBaseline": "middle", "title": null}},
        "x": {"datum": {"year": 2019, "month": 6, "date": 21, "hours": 6}, "type": "temporal",
          "scale": {"domain": [{"year": 2019, "month": 6, "date": 21, "hours": 6}, {"year": 2026, "month": 10, "date": 27, "hours": 10}]}},
        "x2": {"datum": {"year": 2026, "month": 5, "date": 1}}
      }
    },
    {
      "data": {"name": "vgrid"},
      "mark": {"type": "rule", "color": "#232323", "strokeWidth": 1},
      "encoding": {
        "x": {"field": "d", "type": "temporal",
          "scale": {"domain": [{"year": 2019, "month": 6, "date": 21, "hours": 6}, {"year": 2026, "month": 10, "date": 27, "hours": 10}]},
          "axis": {"orient": "bottom", "offset": -26, "title": null, "grid": false, "domain": false, "ticks": false,
            "values": [{"year":2019,"month":7,"date":1},{"year":2020,"month":1,"date":6},{"year":2020,"month":7,"date":6},{"year":2021,"month":1,"date":4},{"year":2021,"month":7,"date":5},{"year":2022,"month":1,"date":3},{"year":2022,"month":7,"date":4},{"year":2023,"month":1,"date":2},{"year":2023,"month":7,"date":3},{"year":2024,"month":1,"date":1},{"year":2024,"month":7,"date":1},{"year":2025,"month":1,"date":6},{"year":2025,"month":7,"date":7},{"year":2026,"month":1,"date":5}],
            "labelExpr": "month(datum.value) == 6 ? 'Jul' : timeFormat(datum.value, '%Y')",
            "labelPadding": 6, "labelFont": "Roboto", "labelFontSize": 12.5, "labelFlush": false, "labelOverlap": false,
            "labelColor": {"condition": {"test": "month(datum.value) == 0", "value": "#d6d6d6"}, "value": "#bdbdbd"},
            "labelFontWeight": {"condition": {"test": "month(datum.value) == 0", "value": "bold"}, "value": "normal"}}},
        "y": {"datum": 0.3156},
        "y2": {"datum": 6.6883}
      }
    },
    {
      "mark": {"type": "rule", "color": "#2e2e2e", "strokeWidth": 1},
      "encoding": {"y": {"datum": 0.698}}
    },
    {
      "data": {"name": "chan"},
      "mark": {"type": "area", "color": "#8c6a75", "opacity": 0.42},
      "encoding": {
        "x": {"field": "d", "type": "temporal"},
        "y": {"field": "up", "type": "quantitative"},
        "y2": {"field": "lo"}
      }
    },
    {
      "data": {"name": "mid"},
      "mark": {"type": "line", "color": "#d8336a", "strokeWidth": 1, "strokeDash": [4, 4]},
      "encoding": {
        "x": {"field": "d", "type": "temporal"},
        "y": {"field": "v", "type": "quantitative"}
      }
    },
    {
      "data": {"name": "candles"},
      "mark": {"type": "rule", "strokeWidth": 1},
      "encoding": {
        "x": {"field": "d", "type": "temporal"},
        "y": {"field": "l", "type": "quantitative"},
        "y2": {"field": "h"},
        "color": {"condition": {"test": "datum.c >= datum.o", "value": "#f2f2f2"}, "value": "#f7525f"}
      }
    },
    {
      "data": {"name": "candles"},
      "mark": {"type": "bar", "size": 1.3},
      "encoding": {
        "x": {"field": "d", "type": "temporal"},
        "y": {"field": "o", "type": "quantitative"},
        "y2": {"field": "c"},
        "color": {"condition": {"test": "datum.c >= datum.o", "value": "#f2f2f2"}, "value": "#f7525f"}
      }
    },
    {
      "data": {"name": "sma"},
      "mark": {"type": "line", "color": "#e040d6", "strokeWidth": 2, "interpolate": "monotone"},
      "encoding": {
        "x": {"field": "d", "type": "temporal"},
        "y": {"field": "s", "type": "quantitative"}
      }
    },
    {
      "data": {"name": "sma"},
      "mark": {"type": "line", "color": "#3fcfc6", "strokeWidth": 2, "interpolate": "monotone"},
      "encoding": {
        "x": {"field": "d", "type": "temporal"},
        "y": {"field": "f", "type": "quantitative"}
      }
    },
    {
      "data": {"name": "edges"},
      "mark": {"type": "line", "color": "#3ee01e", "strokeWidth": 2},
      "encoding": {
        "x": {"field": "d", "type": "temporal"},
        "y": {"field": "v", "type": "quantitative"},
        "detail": {"field": "e"}
      }
    },
    {
      "mark": {"type": "rule", "color": "#e91ee6", "strokeWidth": 2, "strokeDash": [10, 7]},
      "encoding": {
        "y": {"datum": 4.432},
        "x": {"datum": {"year": 2019, "month": 6, "date": 21, "hours": 6}},
        "x2": {"datum": {"year": 2026, "month": 5, "date": 1}}
      }
    },
    {
      "mark": {"type": "rect", "color": "#e91ee6"},
      "encoding": {
        "x": {"datum": {"year": 2026, "month": 5, "date": 4}},
        "x2": {"datum": {"year": 2026, "month": 10, "date": 11}},
        "y": {"datum": 4.334},
        "y2": {"datum": 4.547}
      }
    },
    {
      "mark": {"type": "text", "text": "4.432%", "align": "left", "baseline": "middle", "font": "Roboto", "fontSize": 11.5, "fontWeight": "bold", "color": "#ffffff"},
      "encoding": {
        "x": {"datum": {"year": 2026, "month": 5, "date": 30}},
        "y": {"datum": 4.432}
      }
    },
    {
      "mark": {"type": "rect", "fill": "#0f0f0f", "stroke": "#3a3a3a", "strokeWidth": 1, "cornerRadius": 4},
      "encoding": {
        "x": {"datum": {"year": 2026, "month": 5, "date": 13}},
        "x2": {"datum": {"year": 2026, "month": 10, "date": 15}},
        "y": {"datum": 6.289},
        "y2": {"datum": 6.628}
      }
    },
    {
      "mark": {"type": "text", "text": "%", "align": "left", "baseline": "middle", "font": "Roboto", "fontSize": 11, "color": "#d0d0d0"},
      "encoding": {
        "x": {"datum": {"year": 2026, "month": 6, "date": 12}},
        "y": {"datum": 6.459}
      }
    },
    {
      "mark": {"type": "text", "text": "magnelibra created with TradingView.com, Sep 11, 2025 23:20 UTC-4", "align": "left", "baseline": "alphabetic", "font": "Roboto", "fontSize": 12.5, "fontWeight": "bold", "color": "#d4d4d4"},
      "encoding": {
        "x": {"datum": {"year": 2019, "month": 6, "date": 24, "hours": 11}},
        "y": {"datum": 6.79}
      }
    },
    {
      "mark": {"type": "text", "text": "United States 30 Year Government Bonds Yield · 1W · TVC", "align": "left", "baseline": "alphabetic", "font": "Roboto", "fontSize": 11.8, "color": "#c8c8c8"},
      "encoding": {"x": {"datum": {"year": 2019, "month": 7, "date": 21}}, "y": {"datum": 6.437}}
    },
    {
      "mark": {"type": "text", "text": "O", "align": "left", "baseline": "alphabetic", "font": "Roboto", "fontSize": 11.8, "color": "#c8c8c8"},
      "encoding": {"x": {"datum": {"year": 2022, "month": 4, "date": 30}}, "y": {"datum": 6.437}}
    },
    {
      "mark": {"type": "text", "text": "4.777%", "align": "left", "baseline": "alphabetic", "font": "Roboto", "fontSize": 11.3, "color": "#f7525f"},
      "encoding": {"x": {"datum": {"year": 2022, "month": 6, "date": 3}}, "y": {"datum": 6.437}}
    },
    {
      "mark": {"type": "text", "text": "H", "align": "left", "baseline": "alphabetic", "font": "Roboto", "fontSize": 11.8, "color": "#c8c8c8"},
      "encoding": {"x": {"datum": {"year": 2022, "month": 10, "date": 14}}, "y": {"datum": 6.437}}
    },
    {
      "mark": {"type": "text", "text": "4.785%", "align": "left", "baseline": "alphabetic", "font": "Roboto", "fontSize": 11.3, "color": "#f7525f"},
      "encoding": {"x": {"datum": {"year": 2022, "month": 11, "date": 19}}, "y": {"datum": 6.437}}
    },
    {
      "mark": {"type": "text", "text": "L", "align": "left", "baseline": "alphabetic", "font": "Roboto", "fontSize": 11.8, "color": "#c8c8c8"},
      "encoding": {"x": {"datum": {"year": 2023, "month": 3, "date": 29}}, "y": {"datum": 6.437}}
    },
    {
      "mark": {"type": "text", "text": "4.639%", "align": "left", "baseline": "alphabetic", "font": "Roboto", "fontSize": 11.3, "color": "#f7525f"},
      "encoding": {"x": {"datum": {"year": 2023, "month": 4, "date": 18}}, "y": {"datum": 6.437}}
    },
    {
      "mark": {"type": "text", "text": "C", "align": "left", "baseline": "alphabetic", "font": "Roboto", "fontSize": 11.8, "color": "#c8c8c8"},
      "encoding": {"x": {"datum": {"year": 2023, "month": 9, "date": 4}}, "y": {"datum": 6.437}}
    },
    {
      "mark": {"type": "text", "text": "4.661%", "align": "left", "baseline": "alphabetic", "font": "Roboto", "fontSize": 11.3, "color": "#f7525f"},
      "encoding": {"x": {"datum": {"year": 2023, "month": 10, "date": 1}}, "y": {"datum": 6.437}}
    },
    {
      "mark": {"type": "text", "text": "−0.100 (−2.10%)", "align": "left", "baseline": "alphabetic", "font": "Roboto", "fontSize": 11.8, "color": "#f7525f"},
      "encoding": {"x": {"datum": {"year": 2024, "month": 2, "date": 26}}, "y": {"datum": 6.437}}
    },
    {
      "mark": {"type": "text", "text": "SMA", "align": "left", "baseline": "alphabetic", "font": "Roboto", "fontSize": 11.8, "color": "#c8c8c8"},
      "encoding": {"x": {"datum": {"year": 2019, "month": 7, "date": 21}}, "y": {"datum": 6.213}}
    },
    {
      "mark": {"type": "text", "text": "4.728%", "align": "left", "baseline": "alphabetic", "font": "Roboto", "fontSize": 11.8, "color": "#e23ee0"},
      "encoding": {"x": {"datum": {"year": 2019, "month": 10, "date": 20}}, "y": {"datum": 6.213}}
    },
    {
      "mark": {"type": "text", "text": "SMA", "align": "left", "baseline": "alphabetic", "font": "Roboto", "fontSize": 11.8, "color": "#c8c8c8"},
      "encoding": {"x": {"datum": {"year": 2019, "month": 7, "date": 21}}, "y": {"datum": 6.0}}
    },
    {
      "mark": {"type": "text", "text": "4.874%", "align": "left", "baseline": "alphabetic", "font": "Roboto", "fontSize": 11.8, "color": "#3fcfc6"},
      "encoding": {"x": {"datum": {"year": 2019, "month": 10, "date": 20}}, "y": {"datum": 6.0}}
    },
    {
      "mark": {"type": "text", "text": "30Y US GOVT BOND", "align": "left", "baseline": "alphabetic", "font": "DejaVu Sans", "fontSize": 20.5, "color": "#ff9800"},
      "encoding": {"x": {"datum": {"year": 2021, "month": 5, "date": 5}}, "y": {"datum": 5.516}}
    },
    {
      "mark": {"type": "text", "text": "Vol: The data vendor doesn't provide volume data for this symbol.", "align": "left", "baseline": "alphabetic", "font": "Roboto", "fontSize": 12.3, "color": "#c8c8c8"},
      "encoding": {"x": {"datum": {"year": 2019, "month": 7, "date": 21}}, "y": {"datum": 0.434}}
    },
    {
      "mark": {"type": "point", "shape": "M-1,-0.6 L-0.133,-0.6 L-0.133,0.6 L-0.533,0.6 L-0.533,-0.2 L-1,-0.2 Z M-0.033,-0.4 A0.2,0.2 0 1,0 0.367,-0.4 A0.2,0.2 0 1,0 -0.033,-0.4 Z M0.5,-0.6 L1,-0.6 L0.4,0.6 L-0.033,0.6 Z", "size": 900, "filled": true, "color": "#e6e6e6", "opacity": 1, "strokeWidth": 0},
      "encoding": {"x": {"datum": {"year": 2019, "month": 8, "date": 16}}, "y": {"datum": -0.392}}
    },
    {
      "mark": {"type": "text", "text": "TradingView", "align": "left", "baseline": "alphabetic", "font": "Roboto", "fontSize": 21, "fontWeight": "bold", "color": "#e6e6e6"},
      "encoding": {"x": {"datum": {"year": 2019, "month": 10, "date": 21}}, "y": {"datum": -0.487}}
    }
  ]
}
